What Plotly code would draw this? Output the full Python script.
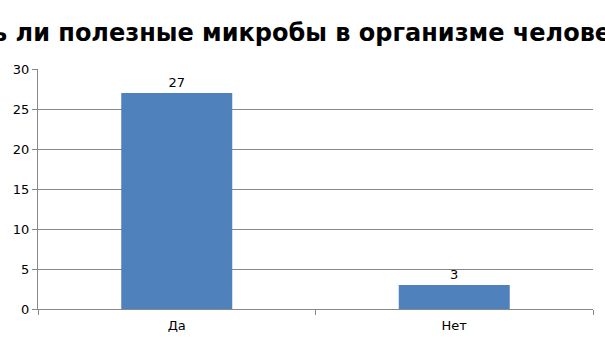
import plotly.graph_objects as go

categories = ["Да", "Нет"]
values = [27, 3]
title_text = "Есть ли полезные микробы в организме человека?"

grid = "#888888"
fig = go.Figure(go.Bar(
    x=categories, y=values, width=0.4,
    marker=dict(color="#4F81BD", line=dict(width=0)),
    text=[str(v) for v in values], textposition="outside",
    textfont=dict(size=13, color="#000000", family="DejaVu Sans"),
    cliponaxis=False,
))
fig.update_layout(
    width=605, height=340,
    margin=dict(l=38, r=12, t=69, b=31, autoexpand=False),
    paper_bgcolor="white", plot_bgcolor="white",
    font=dict(family="DejaVu Sans", size=13, color="#000000"),
    title=dict(text="<b>" + title_text + "</b>", x=0.5, xanchor="center",
               y=1 - 33/340, yanchor="middle",
               font=dict(size=24, family="DejaVu Sans", color="#000000")),
    showlegend=False,
    bargap=0.6,
)
fig.update_xaxes(showline=True, linecolor=grid, linewidth=1,
                 ticks="outside", tickson="boundaries", ticklen=5,
                 tickcolor=grid, showgrid=False, ticklabelstandoff=4,
                 automargin=False)
fig.update_yaxes(range=[0, 30], dtick=5, showline=True, linecolor=grid,
                 linewidth=1, ticks="outside", ticklen=5, tickcolor=grid,
                 showgrid=True, gridcolor=grid, gridwidth=1, zeroline=False,
                 automargin=False)
fig.write_html("out.html")
